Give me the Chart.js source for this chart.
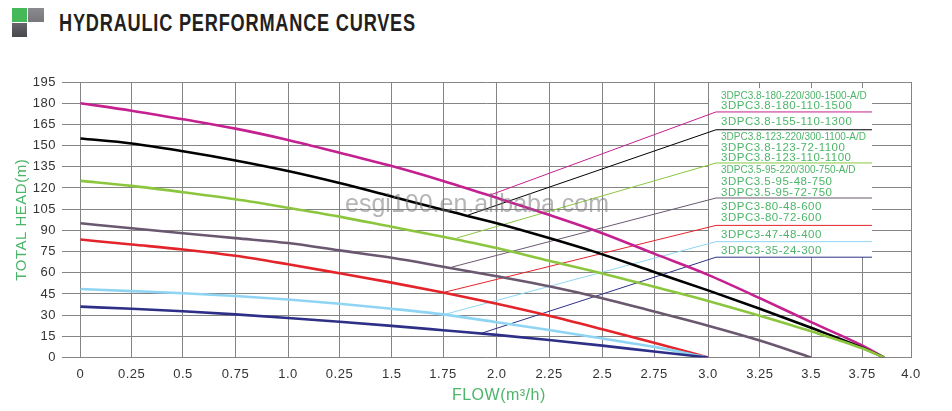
<!DOCTYPE html>
<html>
<head>
<meta charset="utf-8">
<title>Hydraulic performance curves</title>
<script src="https://cdn.jsdelivr.net/npm/chart.js@4/dist/chart.umd.min.js"></script>
<style>
  html, body { margin: 0; padding: 0; background: #fff; }
  #wrap { position: relative; width: 952px; height: 411px; overflow: hidden; }
  #myChart { position: absolute; left: 0; top: 0; }
  .sq { position: absolute; }
  #sqGreen { left: 12px; top: 8px; width: 15px; height: 14px; background: #45b958; }
  #sqGrey { left: 28px; top: 8px; width: 16px; height: 14px; background: linear-gradient(#8b8b8f, #77777b); }
  #sqDark { left: 12px; top: 23px; width: 15px; height: 14px; background: linear-gradient(#66666a, #48484c); }
  h1 {
    position: absolute; left: 59px; top: 10px; margin: 0;
    font: bold 23px "Liberation Sans", sans-serif;
    letter-spacing: 1px; color: #231f20; white-space: nowrap;
    transform: scaleX(0.79); transform-origin: left top;
  }
</style>
</head>
<body>
<div id="wrap">
  <div class="sq" id="sqGreen"></div>
  <div class="sq" id="sqGrey"></div>
  <div class="sq" id="sqDark"></div>
  <h1>HYDRAULIC PERFORMANCE CURVES</h1>
  <canvas id="myChart" width="952" height="411"></canvas>
</div>

<script>
// ***** Data *****
// The printed grid of the original is slightly uneven, so each tick sits at its own flow value
const flowGrid = [0, 0.2466, 0.4937, 0.7466, 0.9995, 1.2476, 1.499, 1.7461, 2.0048, 2.2567, 2.5135, 2.7625, 3.0226, 3.2717, 3.5188, 3.7645, 4];
// the 1.25 tick really is printed as 0.25 on the original
const flowTickLabels = ['0', '0.25', '0.5', '0.75', '1.0', '0.25', '1.5', '1.75', '2.0', '2.25', '2.5', '2.75', '3.0', '3.25', '3.5', '3.75', '4.0'];
const headTicks = [0, 15, 30, 45, 60, 75, 90, 105, 120, 135, 150, 165, 180, 195];

// Curve flow values, read at the grid lines
const flowLong = [...flowGrid.slice(0, 16), 3.87];
const flowMid = flowGrid.slice(0, 15);
const flowShort = flowGrid.slice(0, 13);

// Curve head values
const head180 = [180, 174.7, 168.6, 162, 154, 145, 135.5, 125, 113, 101, 88, 73.5, 58.5, 42, 25, 8.5, 0];
const head155 = [155, 151.5, 146, 139.5, 132, 123.5, 114, 104.5, 95, 84.5, 73, 60.5, 47.5, 34.5, 21, 7, 0];
const head123 = [125, 121.5, 117, 112, 106, 99.7, 92.5, 85.5, 77.5, 68.5, 59.5, 50, 40, 29.5, 18.5, 6.5, 0];
const head95 = [95, 91.5, 88, 84.5, 81, 75.8, 70.6, 64.3, 57.5, 50.5, 42, 32.5, 22.5, 12, 0];
const head80 = [83.5, 80, 76.5, 72, 66, 59.6, 53, 46, 38, 29.5, 20, 10.5, 0];
const head47 = [48.5, 47, 45.5, 43.5, 41, 38, 34.5, 30.5, 25, 19.5, 13.5, 7.5, 0];
const head35 = [36, 34.5, 32.7, 30.5, 28, 25.3, 22.4, 19.3, 16, 12.4, 8.4, 4.2, 0];

// Leader lines: flow, head
const leaderFlow180 = [1.973, 3.061, 3.812];
const leaderHead180 = [115, 173.8, 173.8];
const leaderFlow155 = [1.867, 3.061, 3.812];
const leaderHead155 = [100.8, 161.2, 161.2];
const leaderFlow123 = [1.813, 3.061, 3.812];
const leaderHead123 = [84.6, 137.7, 137.7];
const leaderFlow95 = [1.789, 3.061, 3.812];
const leaderHead95 = [64, 112.9, 112.9];
const leaderFlow80 = [1.756, 3.061, 3.812];
const leaderHead80 = [46.3, 93.5, 93.5];
const leaderFlow47 = [1.741, 3.061, 3.812];
const leaderHead47 = [30, 82, 82];
const leaderFlow35 = [1.934, 3.061, 3.812];
const leaderHead35 = [17.3, 71, 71];

// Model names
const modelNames = [
  '3DPC3.8-180-220/300-1500-A/D', '3DPC3.8-180-110-1500', '3DPC3.8-155-110-1300',
  '3DPC3.8-123-220/300-1100-A/D', '3DPC3.8-123-72-1100', '3DPC3.8-123-110-1100',
  '3DPC3.5-95-220/300-750-A/D', '3DPC3.5-95-48-750', '3DPC3.5-95-72-750',
  '3DPC3-80-48-600', '3DPC3-80-72-600', '3DPC3-47-48-400', '3DPC3-35-24-300'
];
const modelHeads = [185.1, 178, 166.9, 155.9, 148.5, 141, 132.2, 124.4, 116.7, 106.5, 98.9, 86.9, 75.6];

const watermark = 'esgi100.en.alibaba.com';
// ***** Data end *****

const colors = {
  c180: '#c4208f',
  c155: '#000000',
  c123: '#8cc63f',
  c95: '#6a5870',
  c80: '#e3242b',
  c47: '#8fd5f3',
  c35: '#2e3087'
};
const labelGreen = '#4db569';
const font = '"Liberation Sans", Arial, sans-serif';

const toPoints = (xs, ys) => xs.map((x, i) => ({ x: x, y: ys[i] }));

const curve = (xs, ys, color) => ({
  data: toPoints(xs, ys),
  borderColor: color,
  borderWidth: 2.6,
  pointRadius: 0,
  cubicInterpolationMode: 'monotone',
  order: 1
});

const leader = (xs, ys, color) => ({
  data: toPoints(xs, ys),
  borderColor: color,
  borderWidth: 1,
  pointRadius: 0,
  tension: 0,
  order: 2
});

const data = {
  datasets: [
    curve(flowShort, head35, colors.c35),
    curve(flowShort, head47, colors.c47),
    curve(flowShort, head80, colors.c80),
    curve(flowMid, head95, colors.c95),
    curve(flowLong, head123, colors.c123),
    curve(flowLong, head155, colors.c155),
    curve(flowLong, head180, colors.c180),
    leader(leaderFlow180, leaderHead180, colors.c180),
    leader(leaderFlow155, leaderHead155, colors.c155),
    leader(leaderFlow123, leaderHead123, colors.c123),
    leader(leaderFlow95, leaderHead95, colors.c95),
    leader(leaderFlow80, leaderHead80, colors.c80),
    leader(leaderFlow47, leaderHead47, colors.c47),
    leader(leaderFlow35, leaderHead35, colors.c35)
  ]
};

// Tick labels and titles are a little spaced out on the original
const textSpacing = {
  id: 'textSpacing',
  beforeDraw(chart) {
    chart.ctx.letterSpacing = '0.5px';
  }
};

// White panel behind the model names, hides the grid there
const labelPanel = {
  id: 'labelPanel',
  beforeDatasetsDraw(chart) {
    const { ctx, scales: { x, y } } = chart;
    const left = x.getPixelForValue(3.027);
    const right = x.getPixelForValue(3.812);
    const top = y.getPixelForValue(190.7);
    const bottom = y.getPixelForValue(71);
    ctx.save();
    ctx.fillStyle = '#fff';
    ctx.fillRect(left, top, right - left, bottom - top);
    ctx.restore();
  }
};

// Model names, watermark and the flow title (it sits off centre)
const chartTexts = {
  id: 'chartTexts',
  afterDatasetsDraw(chart) {
    const { ctx, scales: { x, y } } = chart;
    ctx.save();
    ctx.textBaseline = 'middle';
    ctx.textAlign = 'left';
    ctx.fillStyle = labelGreen;
    modelNames.forEach((name, i) => {
      ctx.font = (name.endsWith('A/D') ? '10px ' : '11.5px ') + font;
      ctx.letterSpacing = name.endsWith('A/D') ? '0px' : '0.5px';
      ctx.fillText(name, x.getPixelForValue(3.085), y.getPixelForValue(modelHeads[i]));
    });
    ctx.letterSpacing = '0.5px';
    ctx.font = '16px ' + font;
    ctx.textAlign = 'center';
    ctx.fillText('FLOW(m³/h)', x.getPixelForValue(2.015), 396);
    ctx.letterSpacing = '0px';
    ctx.font = '25px ' + font;
    ctx.fillStyle = 'rgba(120, 120, 120, 0.55)';
    ctx.fillText(watermark, x.getPixelForValue(1.91), y.getPixelForValue(108));
    ctx.restore();
  }
};

const configChart = {
  type: 'line',
  data: data,
  plugins: [textSpacing, labelPanel, chartTexts],
  options: {
    responsive: false,
    animation: false,
    layout: { padding: { left: 13, right: 41, top: 82, bottom: 0 } },
    plugins: { legend: { display: false }, title: { display: false }, tooltip: { enabled: false } },
    scales: {
      x: {
        type: 'linear',
        min: -0.089,
        max: 4,
        afterBuildTicks: (scale) => {
          scale.ticks = flowGrid.map((v) => ({ value: v }));
        },
        afterFit: (scale) => { scale.height = 53.5; },
        grid: { color: '#848484', lineWidth: 1, drawTicks: false },
        border: { display: false },
        ticks: {
          autoSkip: false,
          maxRotation: 0,
          padding: 9,
          color: '#333',
          font: { family: font, size: 13 },
          callback: (value) => flowTickLabels[flowGrid.indexOf(value)]
        }
      },
      y: {
        min: 0,
        max: 195,
        afterBuildTicks: (scale) => {
          scale.ticks = headTicks.map((v) => ({ value: v }));
        },
        afterFit: (scale) => { scale.width = 49; },
        grid: { color: '#848484', lineWidth: 1, drawTicks: false },
        border: { display: false },
        ticks: {
          autoSkip: false,
          padding: 6,
          color: '#333',
          font: { family: font, size: 13 }
        },
        title: {
          display: true,
          text: 'TOTAL HEAD(m)',
          color: labelGreen,
          font: { family: font, size: 15 },
          padding: { top: 0, bottom: 4 }
        }
      }
    }
  }
};

const headChart = new Chart(document.getElementById('myChart'), configChart);
</script>
</body>
</html>
